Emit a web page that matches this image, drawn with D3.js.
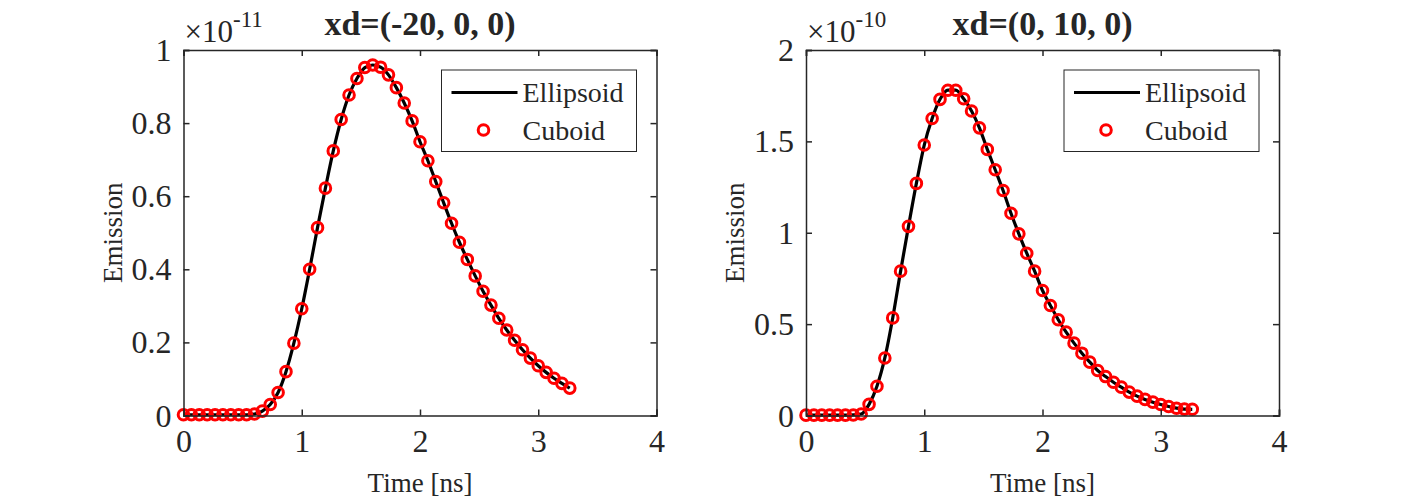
<!DOCTYPE html>
<html>
<head>
<meta charset="utf-8">
<script src="https://cdn.jsdelivr.net/npm/d3@7"></script>
<style>
  body { margin: 0; background: #fff; }
  text { font-family: "Liberation Serif", "Times New Roman", serif; fill: #262626; }
</style>
</head>
<body>
<svg id="chart"></svg>
<script>
const width = 1413, height = 498;

// sample times (ns), one every 1/15 ns
const time = d3.range(50).map(k => k / 15);

// panel 1: xd=(-20, 0, 0), values x1e-11
const ellipsoid1 = [0.002, 0.002, 0.002, 0.002, 0.002, 0.002, 0.002, 0.002, 0.002, 0.004,
  0.012, 0.030, 0.063, 0.120, 0.198, 0.292, 0.400, 0.514, 0.622, 0.724,
  0.810, 0.877, 0.922, 0.952, 0.959, 0.953, 0.932, 0.897, 0.855, 0.806,
  0.749, 0.697, 0.640, 0.582, 0.526, 0.474, 0.427, 0.382, 0.340, 0.302,
  0.266, 0.234, 0.206, 0.180, 0.157, 0.136, 0.118, 0.102, 0.088, 0.075];
const cuboid1 = [0.002, 0.002, 0.002, 0.002, 0.002, 0.002, 0.002, 0.002, 0.002, 0.004,
  0.012, 0.030, 0.063, 0.120, 0.198, 0.292, 0.400, 0.514, 0.622, 0.724,
  0.810, 0.877, 0.922, 0.952, 0.959, 0.953, 0.932, 0.897, 0.855, 0.806,
  0.749, 0.697, 0.640, 0.582, 0.526, 0.474, 0.427, 0.382, 0.340, 0.302,
  0.266, 0.234, 0.206, 0.180, 0.157, 0.136, 0.118, 0.102, 0.088, 0.075];

// panel 2: xd=(0, 10, 0), values x1e-10
const ellipsoid2 = [0.002, 0.002, 0.002, 0.002, 0.002, 0.002, 0.003, 0.008, 0.061, 0.160,
  0.315, 0.534, 0.790, 1.035, 1.270, 1.480, 1.625, 1.730, 1.780, 1.780,
  1.733, 1.666, 1.574, 1.456, 1.345, 1.231, 1.107, 0.994, 0.888, 0.790,
  0.684, 0.602, 0.524, 0.456, 0.396, 0.341, 0.292, 0.246, 0.213, 0.182,
  0.155, 0.128, 0.106, 0.088, 0.073, 0.060, 0.049, 0.040, 0.035, 0.034];
const cuboid2 = [0.002, 0.002, 0.002, 0.002, 0.002, 0.002, 0.003, 0.008, 0.061, 0.160,
  0.315, 0.534, 0.790, 1.035, 1.270, 1.480, 1.625, 1.730, 1.780, 1.780,
  1.733, 1.666, 1.574, 1.456, 1.345, 1.231, 1.107, 0.994, 0.888, 0.790,
  0.684, 0.602, 0.524, 0.456, 0.396, 0.341, 0.292, 0.246, 0.213, 0.182,
  0.155, 0.128, 0.106, 0.088, 0.073, 0.060, 0.049, 0.040, 0.035, 0.034];

const xTicks = [0, 1, 2, 3, 4];
const yTicks1 = [0, 0.2, 0.4, 0.6, 0.8, 1];
const yTicks2 = [0, 0.5, 1, 1.5, 2];
const titles = ["xd=(-20, 0, 0)", "xd=(0, 10, 0)"];
const exponents = ["-11", "-10"];
const legendNames = ["Ellipsoid", "Cuboid"];

const svg = d3.select("#chart").attr("width", width).attr("height", height);
const axisColor = "#262626";

const panels = [
  { left: 183.5, right: 656.5, ell: ellipsoid1, cub: cuboid1, yMax: 1, yTicks: yTicks1, title: titles[0], exp: exponents[0] },
  { left: 806, right: 1279, ell: ellipsoid2, cub: cuboid2, yMax: 2, yTicks: yTicks2, title: titles[1], exp: exponents[1] }
];
const plotTop = 50, plotBottom = 415.5;

panels.forEach(p => {
  const x = d3.scaleLinear().domain([0, 4]).range([p.left, p.right]);
  const y = d3.scaleLinear().domain([0, p.yMax]).range([plotBottom, plotTop]);
  const g = svg.append("g");

  // data: line then markers
  g.append("path")
    .datum(time.map((t, i) => [t, p.ell[i]]))
    .attr("fill", "none")
    .attr("stroke", "#000")
    .attr("stroke-width", 3.2)
    .attr("d", d3.line().x(d => x(d[0])).y(d => y(d[1])).curve(d3.curveMonotoneX));

  g.selectAll("circle.cub")
    .data(time.map((t, i) => [t, p.cub[i]]))
    .join("circle")
    .attr("class", "cub")
    .attr("cx", d => x(d[0]))
    .attr("cy", d => y(d[1]))
    .attr("r", 5.3)
    .attr("fill", "none")
    .attr("stroke", "#ff0000")
    .attr("stroke-width", 3);

  // axes with inward ticks, box on
  const tl = 6;
  const bx = g.append("g").attr("transform", `translate(0,${plotBottom})`)
    .call(d3.axisBottom(x).tickValues(xTicks).tickSize(-tl).tickPadding(15).tickFormat(d3.format("d")));
  const tx = g.append("g").attr("transform", `translate(0,${plotTop})`)
    .call(d3.axisTop(x).tickValues(xTicks).tickSize(-tl).tickFormat(""));
  const ly = g.append("g").attr("transform", `translate(${p.left},0)`)
    .call(d3.axisLeft(y).tickValues(p.yTicks).tickSize(-tl).tickPadding(12).tickFormat(d => d3.format("")(d)));
  const ry = g.append("g").attr("transform", `translate(${p.right},0)`)
    .call(d3.axisRight(y).tickValues(p.yTicks).tickSize(-tl).tickFormat(""));
  [bx, tx, ly, ry].forEach(a => {
    a.selectAll("path.domain").attr("stroke", axisColor).attr("stroke-width", 1.5);
    a.selectAll(".tick line").attr("stroke", axisColor).attr("stroke-width", 1.5);
    a.selectAll(".tick text").attr("fill", axisColor).style("font-size", "32px")
      .style("font-family", "'Liberation Serif', serif");
  });
  bx.selectAll(".tick text").attr("dy", "0.66em");
  ly.selectAll(".tick text").attr("dy", "0.33em");

  // axis labels
  g.append("text")
    .attr("x", (p.left + p.right) / 2).attr("y", 491.5)
    .attr("text-anchor", "middle").style("font-size", "27px")
    .text("Time [ns]");
  g.append("text")
    .attr("transform", `translate(${p.left - 62},${(plotTop + plotBottom) / 2}) rotate(-90)`)
    .attr("text-anchor", "middle").style("font-size", "27px")
    .text("Emission");

  // title
  g.append("text")
    .attr("x", (p.left + p.right) / 2).attr("y", 35)
    .attr("text-anchor", "middle").style("font-size", "34px").style("font-weight", "bold")
    .attr("fill", "#000")
    .text(p.title);

  // exponent label
  const ex = g.append("text").attr("x", p.left + 1).attr("y", 42).style("font-size", "31px");
  ex.append("tspan").text("\u00d710");
  ex.append("tspan").attr("dy", -15).style("font-size", "23px").text(p.exp);

  // legend
  const lg = g.append("g").attr("transform", `translate(${p.right - 215},70)`);
  lg.append("rect").attr("width", 195).attr("height", 81.5)
    .attr("fill", "#fff").attr("stroke", axisColor).attr("stroke-width", 1);
  lg.append("line").attr("x1", 10).attr("x2", 76).attr("y1", 22.5).attr("y2", 22.5)
    .attr("stroke", "#000").attr("stroke-width", 3.2);
  lg.append("circle").attr("cx", 42).attr("cy", 60).attr("r", 5.3)
    .attr("fill", "none").attr("stroke", "#ff0000").attr("stroke-width", 3);
  lg.append("text").attr("x", 81).attr("y", 31.5).style("font-size", "28px").attr("fill", "#000").text(legendNames[0]);
  lg.append("text").attr("x", 81).attr("y", 70).style("font-size", "28px").attr("fill", "#000").text(legendNames[1]);
});
</script>
</body>
</html>
